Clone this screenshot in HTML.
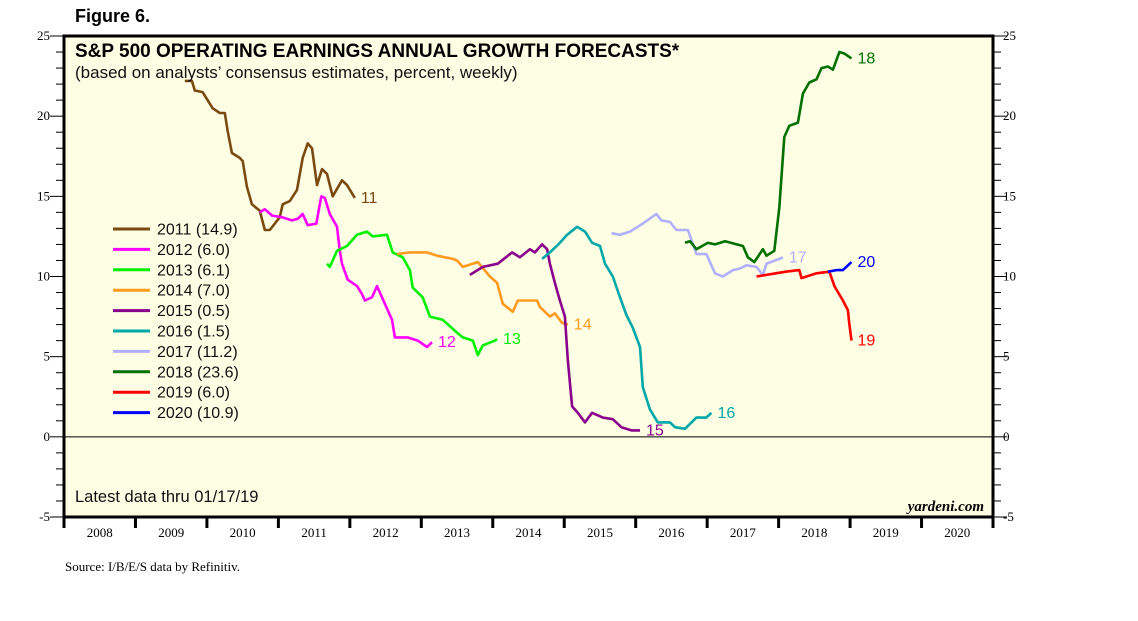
<!DOCTYPE html>
<html><head><meta charset="utf-8"><style>
body{margin:0;background:#fff;width:1138px;height:621px;overflow:hidden;font-family:"Liberation Sans",Arial,sans-serif}
svg{display:block}
</style></head><body>
<svg id="chart" width="1138" height="621" xmlns="http://www.w3.org/2000/svg">
<text x="75" y="22" font-size="18" font-weight="bold" font-family="Liberation Sans">Figure 6.</text>
<rect x="64" y="36" width="929" height="481" fill="#fefee4"/>
<g id="grid"></g>
<g id="series"></g>
<rect x="64" y="36" width="929" height="481" fill="none" stroke="#000" stroke-width="3"/>
<text x="75" y="57" font-size="19" font-weight="bold">S&amp;P 500 OPERATING EARNINGS ANNUAL GROWTH FORECASTS*</text>
<text x="75" y="78" font-size="17" fill="#111">(based on analysts’ consensus estimates, percent, weekly)</text>
<text x="75" y="502" font-size="16.5" fill="#111">Latest data thru 01/17/19</text>
<text x="984" y="511" font-size="15" font-style="italic" font-weight="bold" text-anchor="end" font-family="Liberation Serif">yardeni.com</text>
<text x="65" y="571" font-size="13" font-family="Liberation Serif">Source: I/B/E/S data by Refinitiv.</text>
<g id="legend"></g>
</svg>
<script>
const yTicks=[-5,0,5,10,15,20,25];
const years=[2008,2009,2010,2011,2012,2013,2014,2015,2016,2017,2018,2019,2020];
const names=["2011","2012","2013","2014","2015","2016","2017","2018","2019","2020"];
const finals=["14.9","6.0","6.1","7.0","0.5","1.5","11.2","23.6","6.0","10.9"];
const endLabels=["11","12","13","14","15","16","17","18","19","20"];
const colors=["#7b4a10","#ff00ff","#00f000","#ff9a20","#8b008b","#00a8a8","#b0b0ff","#007000","#ff0000","#0000ff"];
const d2011=[[2009.69,22.2],[2009.79,22.2],[2009.83,21.6],[2009.94,21.5],[2010.08,20.5],[2010.18,20.2],[2010.25,20.2],[2010.29,19.1],[2010.35,17.7],[2010.46,17.4],[2010.50,17.2],[2010.56,15.6],[2010.63,14.5],[2010.74,14.1],[2010.81,12.9],[2010.88,12.9],[2011.02,13.7],[2011.06,14.5],[2011.16,14.7],[2011.26,15.4],[2011.34,17.4],[2011.41,18.3],[2011.47,18.0],[2011.54,15.7],[2011.61,16.7],[2011.68,16.4],[2011.76,15.0],[2011.89,16.0],[2011.96,15.7],[2012.07,14.9]];
const d2012=[[2010.74,14.0],[2010.81,14.2],[2010.91,13.8],[2011.05,13.7],[2011.19,13.5],[2011.27,13.6],[2011.34,13.9],[2011.41,13.2],[2011.53,13.3],[2011.60,15.0],[2011.65,14.9],[2011.72,13.9],[2011.82,13.1],[2011.86,11.6],[2011.89,10.8],[2011.97,9.8],[2012.10,9.4],[2012.17,8.9],[2012.21,8.5],[2012.31,8.7],[2012.38,9.4],[2012.49,8.3],[2012.59,7.3],[2012.63,6.2],[2012.81,6.2],[2012.95,6.0],[2013.08,5.6],[2013.15,5.9]];
const d2013=[[2011.68,10.8],[2011.72,10.6],[2011.82,11.6],[2011.96,11.9],[2012.10,12.6],[2012.24,12.8],[2012.32,12.5],[2012.52,12.6],[2012.60,11.5],[2012.74,11.2],[2012.84,10.4],[2012.88,9.3],[2013.02,8.7],[2013.12,7.5],[2013.30,7.3],[2013.50,6.5],[2013.58,6.2],[2013.72,6.0],[2013.79,5.1],[2013.86,5.7],[2014.03,6.0],[2014.06,6.1]];
const d2014=[[2012.66,11.4],[2012.84,11.5],[2013.08,11.5],[2013.22,11.3],[2013.44,11.1],[2013.50,11.0],[2013.58,10.6],[2013.79,10.9],[2013.96,10.0],[2014.06,9.6],[2014.14,8.3],[2014.28,7.8],[2014.35,8.5],[2014.52,8.5],[2014.62,8.5],[2014.66,8.1],[2014.80,7.5],[2014.87,7.7],[2014.97,7.1],[2015.05,7.0]];
const d2015=[[2013.68,10.1],[2013.86,10.6],[2014.07,10.8],[2014.27,11.5],[2014.38,11.2],[2014.52,11.7],[2014.59,11.5],[2014.69,12.0],[2014.76,11.7],[2014.80,10.8],[2014.87,9.6],[2014.94,8.5],[2015.01,7.5],[2015.05,4.8],[2015.11,1.9],[2015.19,1.5],[2015.29,0.9],[2015.39,1.5],[2015.54,1.2],[2015.68,1.1],[2015.80,0.6],[2015.94,0.4],[2016.06,0.4]];
const d2016=[[2014.69,11.1],[2014.80,11.5],[2014.94,12.1],[2015.04,12.6],[2015.18,13.1],[2015.29,12.8],[2015.39,12.1],[2015.50,11.9],[2015.57,10.8],[2015.68,10.0],[2015.78,8.7],[2015.87,7.6],[2015.96,6.8],[2016.06,5.6],[2016.10,3.1],[2016.20,1.7],[2016.31,0.9],[2016.48,0.9],[2016.55,0.6],[2016.69,0.5],[2016.85,1.2],[2016.99,1.2],[2017.06,1.5]];
const d2017=[[2015.66,12.7],[2015.78,12.6],[2015.92,12.8],[2016.10,13.3],[2016.29,13.9],[2016.36,13.5],[2016.48,13.4],[2016.57,12.9],[2016.73,12.9],[2016.85,11.4],[2016.99,11.4],[2017.11,10.2],[2017.22,10.0],[2017.36,10.4],[2017.46,10.5],[2017.55,10.7],[2017.69,10.6],[2017.78,10.1],[2017.83,10.8],[2018.01,11.1],[2018.06,11.2]];
const d2018=[[2016.69,12.1],[2016.76,12.2],[2016.85,11.7],[2017.01,12.1],[2017.11,12.0],[2017.25,12.2],[2017.50,11.9],[2017.57,11.2],[2017.66,10.9],[2017.78,11.7],[2017.83,11.3],[2017.94,11.6],[2018.01,14.3],[2018.08,18.7],[2018.15,19.4],[2018.27,19.6],[2018.34,21.4],[2018.43,22.1],[2018.53,22.3],[2018.60,23.0],[2018.69,23.1],[2018.76,22.9],[2018.85,24.0],[2018.92,23.9],[2019.02,23.6]];
const d2019=[[2017.69,10.0],[2017.83,10.1],[2017.96,10.2],[2018.10,10.3],[2018.29,10.4],[2018.32,9.9],[2018.53,10.2],[2018.71,10.3],[2018.78,9.4],[2018.90,8.5],[2018.97,7.9],[2018.99,7.0],[2019.02,6.0]];
const d2020=[[2018.69,10.3],[2018.81,10.4],[2018.90,10.4],[2019.02,10.9]];
const allData=[d2011,d2012,d2013,d2014,d2015,d2016,d2017,d2018,d2019,d2020];

const NS="http://www.w3.org/2000/svg";
const X0=64,X1=993,Y0=36,Y1=517;
const xs=t=>X0+(t-2008)/(2021-2008)*(X1-X0);
const ys=v=>Y1-(v+5)/30*(Y1-Y0);
function mk(tag,attrs,parent){const e=document.createElementNS(NS,tag);for(const k in attrs)e.setAttribute(k,attrs[k]);parent.appendChild(e);return e;}
const grid=document.getElementById('grid');
for(let v=-5;v<=25;v++){
  const major=v%5===0;const L=major?14:8;
  const t1=mk('line',{x1:X0-L,x2:X0,y1:ys(v),y2:ys(v),stroke:'#000','stroke-width':1},grid);
  
  
  const t2=mk('line',{x1:X1,x2:X1+L,y1:ys(v),y2:ys(v),stroke:'#000','stroke-width':1},grid);
  
  
}
yTicks.forEach(v=>{
  const a=mk('text',{x:X0-14,y:ys(v)+4,'font-size':13,'text-anchor':'end','font-family':'Liberation Serif'},grid);a.textContent=v;
  
  
  const b=mk('text',{x:X1+10,y:ys(v)+4,'font-size':13,'font-family':'Liberation Serif'},grid);b.textContent=v;
  
  
});
const z=mk('line',{x1:X0,x2:X1,y1:ys(0),y2:ys(0),stroke:'#000','stroke-width':1},grid);


for(let i=0;i<=years.length;i++){
  const tk=mk('line',{x1:xs(2008+i),x2:xs(2008+i),y1:Y1,y2:Y1+11,stroke:'#000','stroke-width':3},grid);
  
  
}
years.forEach(y=>{
  const t=mk('text',{x:xs(y+0.5),y:Y1+20,'font-size':13,'text-anchor':'middle','font-family':'Liberation Serif'},grid);t.textContent=y;
  
  
});
const sg=document.getElementById('series');
allData.forEach((d,i)=>{
  const p=mk('polyline',{points:d.map(q=>xs(q[0]).toFixed(1)+','+ys(q[1]).toFixed(1)).join(' '),fill:'none',stroke:colors[i],'stroke-width':2.6,'stroke-linejoin':'round'},sg);
  
  
  const last=d[d.length-1];
  const t=mk('text',{x:xs(last[0])+6,y:ys(last[1])+5,'font-size':16,fill:colors[i]},sg);t.textContent=endLabels[i];
  
  
});
const lg=document.getElementById('legend');
names.forEach((n,i)=>{
  const y=229+i*20.4;
  const l=mk('line',{x1:113,x2:150,y1:y,y2:y,stroke:colors[i],'stroke-width':3},lg);
  
  
  const t=mk('text',{x:157,y:y+5.5,'font-size':16,fill:'#111'},lg);t.textContent=n+' ('+finals[i]+')';
  
  
});
</script>
</body></html>
